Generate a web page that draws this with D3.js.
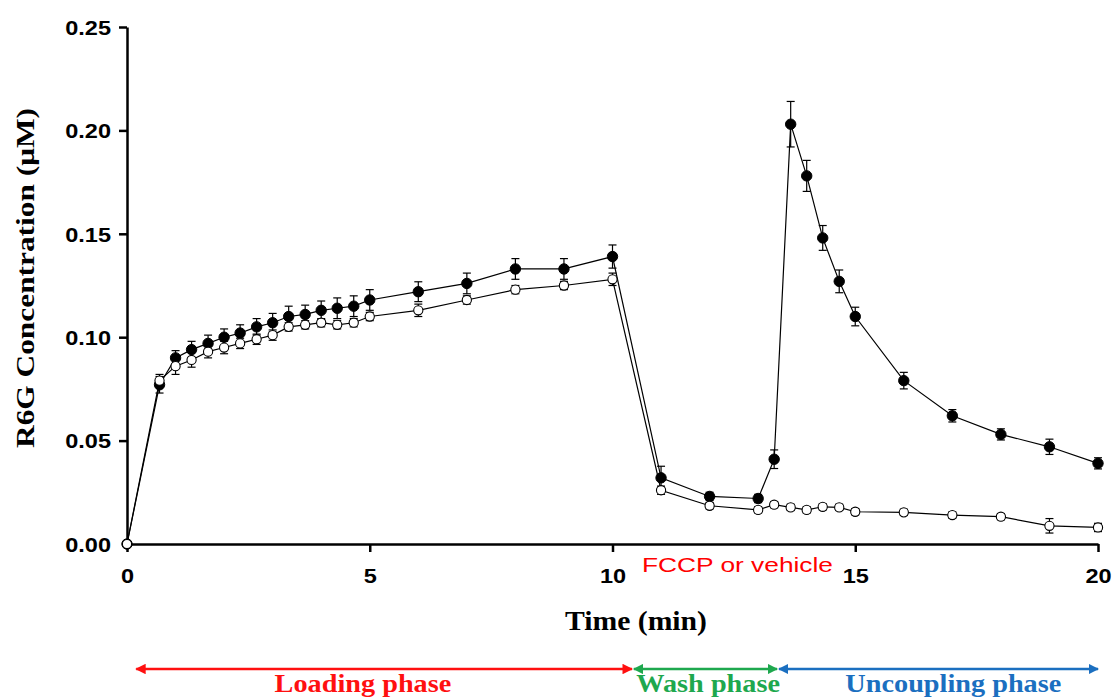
<!DOCTYPE html>
<html lang="en">
<head>
    <meta charset="UTF-8">
    <script src="https://d3js.org/d3.v7.min.js"></script>
    <title>R6G concentration</title>
    <style>
        body { margin: 0; background: #fff; }
        svg { display: block; }
    </style>
</head>
<body>
<div id="draw_here"></div>

<script type="text/javascript">

    var width = 1115;
    var height = 700;

    // sampling times (min)
    var times = [0, 0.67, 1, 1.33, 1.67, 2, 2.33, 2.67, 3, 3.33, 3.67, 4, 4.33, 4.67, 5,
        6, 7, 8, 9, 10, 11, 12, 13, 13.33, 13.67, 14, 14.33, 14.67, 15, 16, 17, 18, 19, 20];

    // filled circles (FCCP)
    var fccpMean = [0, 0.077, 0.090, 0.094, 0.097, 0.100, 0.102, 0.105, 0.107, 0.110, 0.111, 0.113, 0.114, 0.115, 0.118,
        0.122, 0.126, 0.133, 0.133, 0.139, 0.032, 0.023, 0.022, 0.041, 0.203, 0.178, 0.148, 0.127, 0.110, 0.079, 0.062, 0.053, 0.047, 0.039];
    var fccpSem = [0, 0.004, 0.0035, 0.004, 0.004, 0.004, 0.004, 0.004, 0.0045, 0.005, 0.0045, 0.0045, 0.005, 0.005, 0.005,
        0.0048, 0.005, 0.005, 0.005, 0.0056, 0.0056, 0.002, 0.002, 0.0045, 0.011, 0.0075, 0.006, 0.0055, 0.0045, 0.004, 0.003, 0.0027, 0.0037, 0.0027];

    // open circles (vehicle)
    var vehMean = [0, 0.079, 0.086, 0.089, 0.093, 0.095, 0.097, 0.099, 0.101, 0.105, 0.106, 0.107, 0.106, 0.107, 0.110,
        0.113, 0.118, 0.123, 0.125, 0.128, 0.026, 0.0185, 0.0165, 0.019, 0.0177, 0.0165, 0.018, 0.0177, 0.0156, 0.0153, 0.014, 0.0132, 0.0088, 0.008];
    var vehSem = [0, 0.003, 0.004, 0.0035, 0.003, 0.003, 0.0025, 0.0025, 0.0025, 0.002, 0.002, 0.002, 0.002, 0.002, 0.002,
        0.003, 0.002, 0.002, 0.002, 0.003, 0.002, 0.0015, 0.0015, 0.0015, 0.0015, 0.0015, 0.0015, 0.0015, 0.0015, 0.0015, 0.0015, 0.0015, 0.0035, 0.002];

    var xTicks = [0, 5, 10, 15, 20];
    var yTicks = [0.00, 0.05, 0.10, 0.15, 0.20, 0.25];

    // phase arrows below the chart (start, end, label centre in min)
    var phaseNames = ["Loading phase", "Wash phase", "Uncoupling phase"];
    var phaseStart = [0.19, 10.44, 13.43];
    var phaseEnd = [10.4, 13.39, 20.0];
    var phaseLabelAt = [4.86, 11.97, 17.02];
    var phaseColors = ["#ff1010", "#1ea84e", "#1b6fc0"];

    var x = d3.scaleLinear().domain([0, 20]).range([127, 1098]);
    var y = d3.scaleLinear().domain([0, 0.25]).range([544, 27]);

    var fccp = times.map((t, i) => ({t: t, v: fccpMean[i], e: fccpSem[i]}));
    var veh = times.map((t, i) => ({t: t, v: vehMean[i], e: vehSem[i]}));

    var svg = d3.select("#draw_here")
        .append("svg")
        .attr("width", width)
        .attr("height", height);

    // stretch a text to k times its natural width (source text is wide)
    function stretch(sel, k) {
        sel.each(function () {
            var w = this.getComputedTextLength();
            d3.select(this).attr("textLength", w * k).attr("lengthAdjust", "spacingAndGlyphs");
        });
    }

    // axes
    var xAxis = g => g
        .attr("transform", `translate(0,${y(0)})`)
        .call(d3.axisBottom(x).tickValues(xTicks).tickSize(8).tickPadding(6).tickSizeOuter(0))
        .call(g => g.selectAll("path, line").attr("stroke", "#000").attr("stroke-width", 2.5))
        .call(g => g.selectAll("text")
            .attr("font-family", "Liberation Sans, Arial, sans-serif")
            .attr("font-weight", "bold")
            .attr("font-size", 21)
            .attr("fill", "#000")
            .attr("dy", 0)
            .attr("y", 39));

    var yAxis = g => g
        .attr("transform", `translate(${x(0)},0)`)
        .call(d3.axisLeft(y).tickValues(yTicks).tickFormat(d3.format(".2f")).tickSize(8).tickPadding(8).tickSizeOuter(0))
        .call(g => g.selectAll("path, line").attr("stroke", "#000").attr("stroke-width", 2.5))
        .call(g => g.selectAll(".tick").filter(d => d === 0).select("line").remove())
        .call(g => g.selectAll("text")
            .attr("font-family", "Liberation Sans, Arial, sans-serif")
            .attr("font-weight", "bold")
            .attr("font-size", 21)
            .attr("fill", "#000")
            .attr("dy", "0.35em"));

    svg.append("g").call(xAxis);
    svg.append("g").call(yAxis);
    stretch(svg.selectAll(".tick text"), 1.12);

    // error bars
    function errorBars(data) {
        var g = svg.append("g").attr("stroke", "#000").attr("stroke-width", 1.2);
        var d2 = data.filter(d => d.e > 0);
        g.selectAll("line.v").data(d2).join("line")
            .attr("x1", d => x(d.t)).attr("x2", d => x(d.t))
            .attr("y1", d => y(d.v - d.e)).attr("y2", d => y(d.v + d.e));
        g.selectAll("line.top").data(d2).join("line")
            .attr("x1", d => x(d.t) - 4).attr("x2", d => x(d.t) + 4)
            .attr("y1", d => y(d.v + d.e)).attr("y2", d => y(d.v + d.e));
        g.selectAll("line.bot").data(d2).join("line")
            .attr("x1", d => x(d.t) - 4).attr("x2", d => x(d.t) + 4)
            .attr("y1", d => y(d.v - d.e)).attr("y2", d => y(d.v - d.e));
    }
    errorBars(veh);
    errorBars(fccp);

    var line = d3.line().x(d => x(d.t)).y(d => y(d.v));

    svg.append("path").datum(veh)
        .attr("fill", "none").attr("stroke", "#000").attr("stroke-width", 1.2)
        .attr("d", line);
    svg.append("path").datum(fccp)
        .attr("fill", "none").attr("stroke", "#000").attr("stroke-width", 1.2)
        .attr("d", line);

    svg.append("g")
        .selectAll("circle")
        .data(fccp)
        .join("circle")
        .attr("cx", d => x(d.t))
        .attr("cy", d => y(d.v))
        .attr("r", 5.2)
        .attr("fill", "#000")
        .attr("stroke", "#000");

    svg.append("g")
        .selectAll("circle")
        .data(veh)
        .join("circle")
        .attr("cx", d => x(d.t))
        .attr("cy", d => y(d.v))
        .attr("r", 4.6)
        .attr("fill", "#fff")
        .attr("stroke", "#000")
        .attr("stroke-width", 1.1);

    // axis titles
    svg.append("text")
        .attr("transform", "translate(34,278) rotate(-90)")
        .attr("text-anchor", "middle")
        .attr("font-family", "Liberation Serif, Times New Roman, serif")
        .attr("font-weight", "bold")
        .attr("font-size", 26)
        .attr("textLength", 340)
        .attr("lengthAdjust", "spacingAndGlyphs")
        .text("R6G  Concentration (\u03bcM)");

    svg.append("text")
        .attr("x", 636)
        .attr("y", 630)
        .attr("text-anchor", "middle")
        .attr("font-family", "Liberation Serif, Times New Roman, serif")
        .attr("font-weight", "bold")
        .attr("font-size", 27)
        .attr("textLength", 142)
        .attr("lengthAdjust", "spacingAndGlyphs")
        .text("Time (min)");

    svg.append("text")
        .attr("x", 642)
        .attr("y", 572)
        .attr("font-family", "Liberation Sans, Arial, sans-serif")
        .attr("font-size", 21)
        .attr("fill", "#ff0000")
        .attr("textLength", 191)
        .attr("lengthAdjust", "spacingAndGlyphs")
        .text("FCCP or vehicle");

    // phase arrows
    var defs = svg.append("defs");
    phaseColors.forEach((c, i) => {
        defs.append("marker")
            .attr("id", "head" + i)
            .attr("viewBox", "0 0 10 10")
            .attr("refX", 9).attr("refY", 5)
            .attr("markerWidth", 4.2).attr("markerHeight", 4.2)
            .attr("markerUnits", "strokeWidth")
            .attr("orient", "auto-start-reverse")
            .append("path")
            .attr("d", "M0,0 L10,5 L0,10 z")
            .attr("fill", c);
    });

    var arrowY = 669;
    var phases = phaseNames.map((n, i) => ({name: n, s: phaseStart[i], e: phaseEnd[i], m: phaseLabelAt[i], c: phaseColors[i], i: i}));

    svg.append("g")
        .selectAll("line")
        .data(phases)
        .join("line")
        .attr("x1", d => x(d.s)).attr("x2", d => x(d.e))
        .attr("y1", arrowY).attr("y2", arrowY)
        .attr("stroke", d => d.c)
        .attr("stroke-width", 2.5)
        .attr("marker-start", d => `url(#head${d.i})`)
        .attr("marker-end", d => `url(#head${d.i})`);

    svg.append("g")
        .selectAll("text")
        .data(phases)
        .join("text")
        .attr("x", d => x(d.m))
        .attr("y", 692)
        .attr("text-anchor", "middle")
        .attr("font-family", "Liberation Serif, Times New Roman, serif")
        .attr("font-weight", "bold")
        .attr("font-size", 25)
        .attr("fill", d => d.c)
        .text(d => d.name)
        .call(s => stretch(s, 1.13));

</script>

</body>
</html>
